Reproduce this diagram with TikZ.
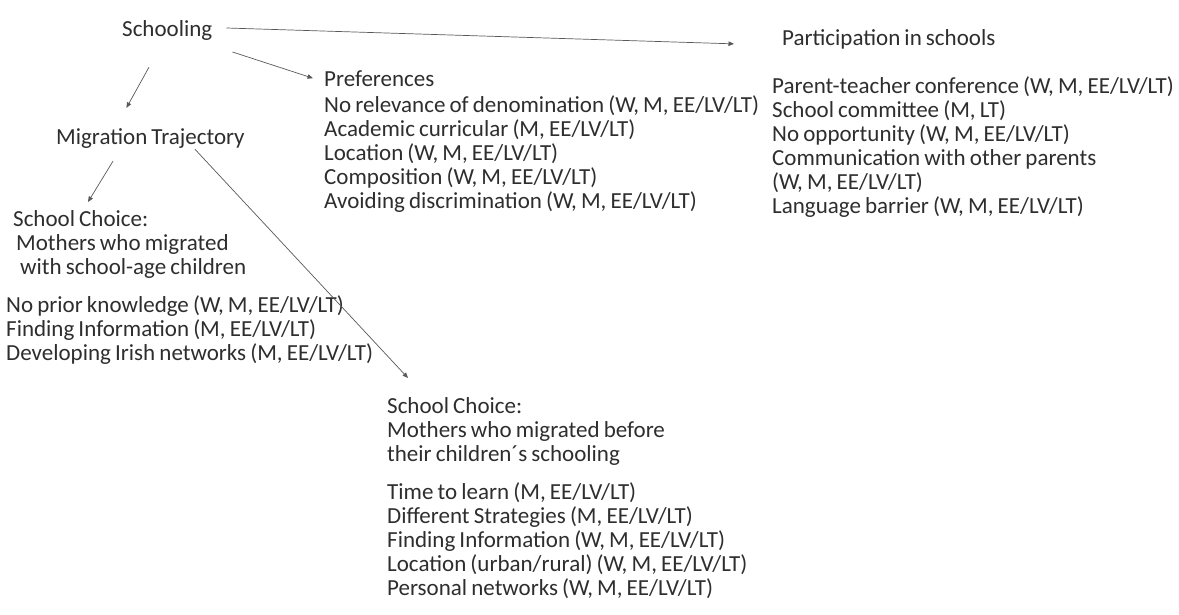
\documentclass[tikz,border=0pt]{standalone}
\usepackage{fontspec}
\setmainfont{Carlito}[WordSpace=0.8]
\usetikzlibrary{arrows.meta}
\newcommand{\mylines}[1]{\begin{tabular}[t]{@{}l@{}}#1\end{tabular}}
\tikzset{
  txt/.style={anchor=base west, inner sep=0pt, text=black!82,
    font=\fontsize{23}{24}\selectfont},
  arr/.style={draw=black!65, line width=0.7pt,
    -{Triangle[length=5.5pt,width=4.5pt]}}
}
\begin{document}
\begin{tikzpicture}[x=1pt,y=-1pt]
\useasboundingbox[fill=white] (0,0) rectangle (1179,614);
% headings
\node[txt] (sch)  at (122,36)  {Schooling};
\node[txt] (part) at (782,45)  {Participation in schools};
\node[txt] (pref) at (324,86)  {Preferences};
\node[txt] (mig)  at (56,144)  {Migration Trajectory};
\node[txt] (scA)  at (13,226)  {\mylines{School Choice:\\
  \hspace{3pt}Mothers who migrated\\
  \hspace{7pt}with school-age children}};
\node[txt] (scB)  at (387,413) {\mylines{School Choice:\\
  Mothers who migrated before\\
  their children´s schooling}};
% lists
\node[txt] (partl) at (772,93) {\mylines{Parent-teacher conference (W, M, EE/LV/LT)\\
  School committee (M, LT)\\
  No opportunity (W, M, EE/LV/LT)\\
  Communication with other parents\\
  (W, M, EE/LV/LT)\\
  Language barrier (W, M, EE/LV/LT)}};
\node[txt] (prefl) at (324,112) {\mylines{No relevance of denomination (W, M, EE/LV/LT)\\
  Academic curricular (M, EE/LV/LT)\\
  Location (W, M, EE/LV/LT)\\
  Composition (W, M, EE/LV/LT)\\
  Avoiding discrimination (W, M, EE/LV/LT)}};
\node[txt] (scAl) at (6,312) {\mylines{No prior knowledge (W, M, EE/LV/LT)\\
  Finding Information (M, EE/LV/LT)\\
  Developing Irish networks (M, EE/LV/LT)}};
\node[txt] (scBl) at (387,499) {\mylines{Time to learn (M, EE/LV/LT)\\
  Different Strategies (M, EE/LV/LT)\\
  Finding Information (W, M, EE/LV/LT)\\
  Location (urban/rural) (W, M, EE/LV/LT)\\
  Personal networks (W, M, EE/LV/LT)}};
% connectors
\draw[arr] ([shift={(14,-2)}]sch.east) -- ([shift={(-48,5)}]part.west);
\draw[arr] ([shift={(20,22)}]sch.east) -- ([shift={(-11,0)}]pref.west);
\draw[arr] ([shift={(27,27)}]sch.south west) -- ([shift={(-24,-20)}]mig.north);
\draw[arr] ([shift={(57,13)}]mig.south west) -- ([shift={(75,-7)}]scA.north west);
\draw[arr] ([shift={(-50,1)}]mig.south east) -- ([shift={(21,-18)}]scB.north west);
\end{tikzpicture}
\end{document}
